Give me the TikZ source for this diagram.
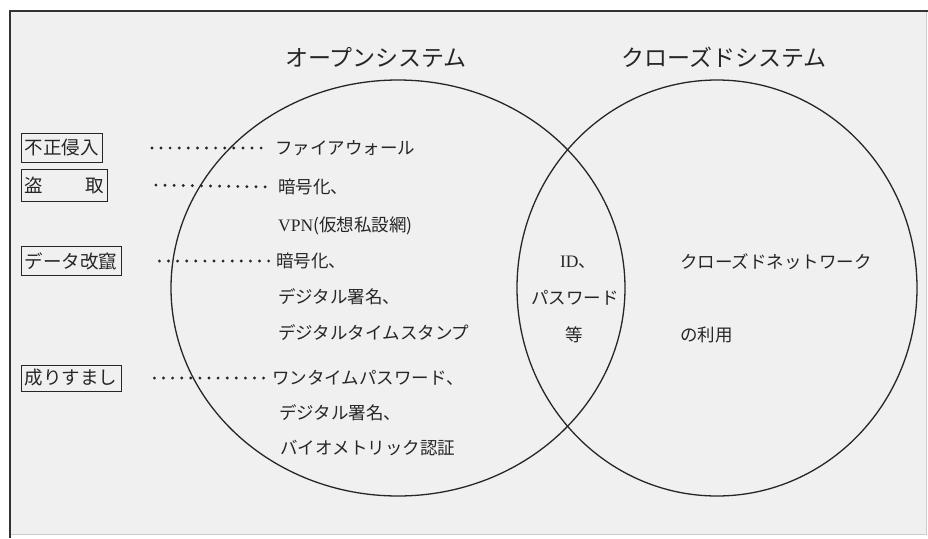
\documentclass[tikz,border=0pt]{standalone}
\usepackage{fontspec}
\setmainfont{Noto Sans CJK JP}
\newfontfamily\latfont{Liberation Serif}
\begin{document}
\begin{tikzpicture}[x=1pt,y=-1pt,
  ink/.style={black!85},
  ttl/.style={ink,inner sep=0pt,font=\fontsize{23}{24}\selectfont},
  txt/.style={ink,inner sep=0pt,anchor=west,font=\fontsize{17.5}{18}\selectfont},
  ctxt/.style={ink,inner sep=0pt,font=\fontsize{17.5}{18}\selectfont},
  threat/.style={draw=black!85,line width=0.9pt,ink,anchor=west,inner xsep=3.5pt,inner ysep=4pt,
    minimum height=29pt,font=\fontsize{18.5}{19}\selectfont},
  dotline/.style={black!85,line width=3.2pt,line cap=round,dash pattern=on 0pt off 9.1pt},
  setline/.style={black!85,line width=1.3pt}]
\useasboundingbox (0,0) rectangle (928,538);
\fill[white] (0,0) rectangle (928,538);
\fill[black!6] (10,11) rectangle (926,534);
\draw[black!20,line width=0.8pt] (926,11) -- (926,534) -- (10,534);
\draw[black!80,line width=1.6pt] (10,538) -- (10,11) -- (928,11);

% sets
\draw[setline] (398,288) ellipse [x radius=227, y radius=208];
\draw[setline] (717,288) ellipse [x radius=200, y radius=208];

% titles
\node[ttl] (open) at (376,57) {オープンシステム};
\node[ttl] (closed) at (724,57) {クローズドシステム};

% threats
\node[threat] (b1) at (21,148) {不正侵入};
\node[threat,minimum height=32pt] (b2) at (21,185) {\makebox[79pt][s]{盗\hfill 取}};
\node[threat] (b3) at (21,261) {データ改竄};
\node[threat,minimum height=26pt] (b4) at (21,378) {成りすまし};

% countermeasures (open system)
\node[txt] (t1) at (275,148) {ファイアウォール};
\node[txt] (t2) at (278,187) {暗号化、};
\node[txt] (t3) at (278,226) {{\latfont VPN}(仮想私設網)};
\node[txt] (t4) at (276,261) {暗号化、};
\node[txt] (t5) at (278,297) {デジタル署名、};
\node[txt] (t6) at (278,333) {デジタルタイムスタンプ};
\node[txt] (t7) at (272,378) {ワンタイムパスワード、};
\node[txt] (t8) at (279,413) {デジタル署名、};
\node[txt] (t9) at (280,448) {バイオメトリック認証};

% common part
\node[ctxt] (c1) at (578,262) {{\latfont ID}、};
\node[ctxt] (c2) at (575,298) {パスワード};
\node[ctxt] (c3) at (574,335) {等};

% closed system
\node[txt] (d1) at (680,262) {クローズドネットワーク};
\node[txt] (d2) at (680,335) {の利用};

% dotted leaders
\draw[dotline] ([xshift=49pt]b1.east) -- ([xshift=-8pt]t1.west);
\draw[dotline] ([xshift=48pt]b2.east) -- ([xshift=-6pt]t2.west);
\draw[dotline] ([xshift=38pt]b3.east) -- ([xshift=-1pt]t4.west);
\draw[dotline] ([xshift=33pt]b4.east) -- ([xshift=-6pt]t7.west);
\end{tikzpicture}
\end{document}
